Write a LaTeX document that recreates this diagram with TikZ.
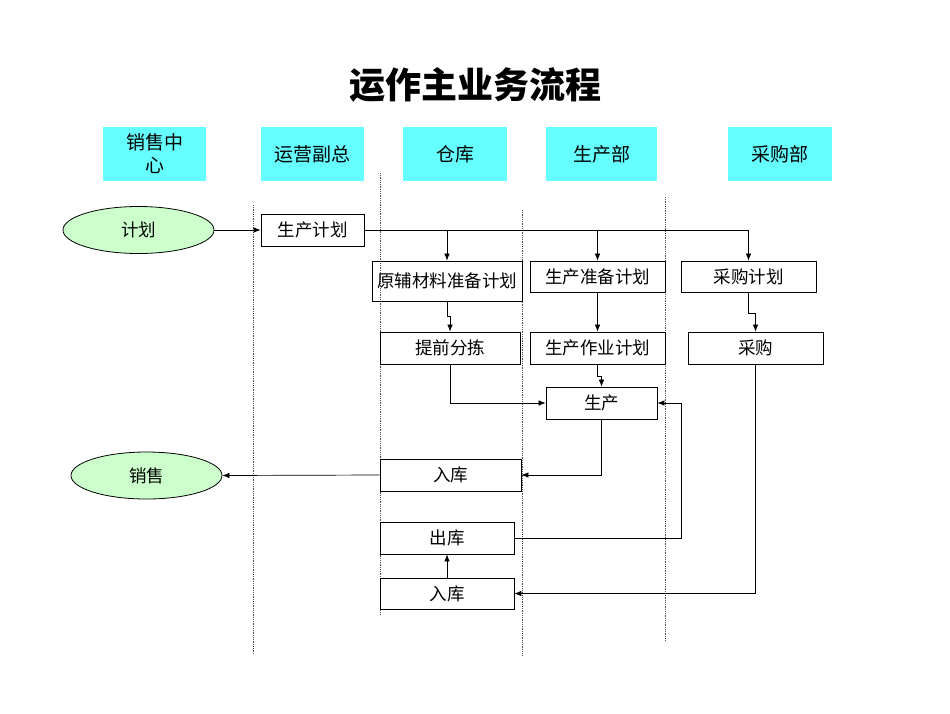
\documentclass[tikz,border=0pt]{standalone}
\usepackage{fontspec}
\newfontfamily\cjk{Noto Sans CJK SC}
\usetikzlibrary{arrows.meta}
\usetikzlibrary{shapes.geometric}
\definecolor[named]{LaneCyan}{RGB}{102,255,255}
\definecolor[named]{PlanGreen}{RGB}{204,255,204}
\tikzset{
  lane/.style={fill=LaneCyan, minimum width=103pt, minimum height=54pt,
    inner sep=0pt, align=center, font=\cjk\fontsize{19}{23}\selectfont},
  task/.style={draw, line width=0.8pt, minimum height=32pt, inner sep=0pt,
    font=\cjk\fontsize{17.5}{20}\selectfont},
  event/.style={ellipse, draw, line width=0.8pt, fill=PlanGreen,
    minimum width=151pt, minimum height=47pt, inner sep=0pt,
    font=\cjk\fontsize{17.5}{20}\selectfont},
  flow/.style={-{Latex[length=7pt,width=5.5pt]}, line width=0.7pt},
  swim/.style={densely dotted, line width=0.8pt, black!70}
}

\begin{document}
\begin{tikzpicture}[x=1pt,y=-1pt]
  \useasboundingbox (0,0) rectangle (950,713);
  \node[font=\cjk\bfseries\fontsize{36}{40}\selectfont] (title) at (475,85) {运作主业务流程};
  % lane headers
  \node[lane] (sales) at (154.5,154) {销售中\\心};
  \node[lane] (vp)    at (312.5,154) {运营副总};
  \node[lane, minimum width=104pt] (store) at (455,154) {仓库};
  \node[lane, minimum width=111pt] (mfg)   at (601.5,154) {生产部};
  \node[lane, minimum width=104pt] (buy)   at (780,154) {采购部};
  % swimlane separators
  \draw[swim] (253,205) -- (253,655);
  \draw[swim] (380,173) -- (380,615);
  \draw[swim] (522,210) -- (522,655);
  \draw[swim] (665,197) -- (665,640);
  % steps
  \node[event] (plan) at (138.5,230) {计划};
  \node[event] (sale) at (146.5,475.5) {销售};
  \node[task, minimum width=103pt] (pplan) at (312.5,230) {生产计划};
  \node[task, minimum width=150pt, minimum height=40pt] (matplan) at (447,281) {原辅材料准备计划};
  \node[task, minimum width=135pt, minimum height=31pt] (prepplan) at (597.5,276.5) {生产准备计划};
  \node[task, minimum width=135pt, minimum height=31pt] (purplan) at (748.5,276.5) {采购计划};
  \node[task, minimum width=140pt] (sort) at (450,348) {提前分拣};
  \node[task, minimum width=135pt] (oplan) at (597.5,348) {生产作业计划};
  \node[task, minimum width=135pt] (pur) at (755.5,348) {采购};
  \node[task, minimum width=111pt] (prod) at (601.5,403) {生产};
  \node[task, minimum width=141pt] (in1) at (450.5,475) {入库};
  \node[task, minimum width=134pt] (out) at (447,538) {出库};
  \node[task, minimum width=134pt, minimum height=31pt] (in2) at (447,593.5) {入库};
  % flows
  \draw[flow] (plan.east) -- (pplan.west);
  \draw[flow] (pplan.east) -| (matplan.north);
  \draw[flow] (pplan.east) -| (prepplan.north);
  \draw[flow] (pplan.east) -| (purplan.north);
  \draw[flow] (matplan.south) -- ++(0,15) -| (sort.north);
  \draw[flow] (prepplan.south) -- (oplan.north);
  \draw[flow] (purplan.south) -- ++(0,21) -| (pur.north);
  \draw[flow] (oplan.south) -- ++(0,12) -| (prod.north);
  \draw[flow] (sort.south) |- (prod.west);
  \draw[flow] (prod.south) |- (in1.east);
  \draw[flow] (out.east) -- ++(167,0) |- (prod.east);
  \draw[flow] (pur.south) |- (in2.east);
  \draw[flow] (in1.west) -- (sale.east);
  \draw[flow] (in2.north) -- (out.south);
\end{tikzpicture}
\end{document}
